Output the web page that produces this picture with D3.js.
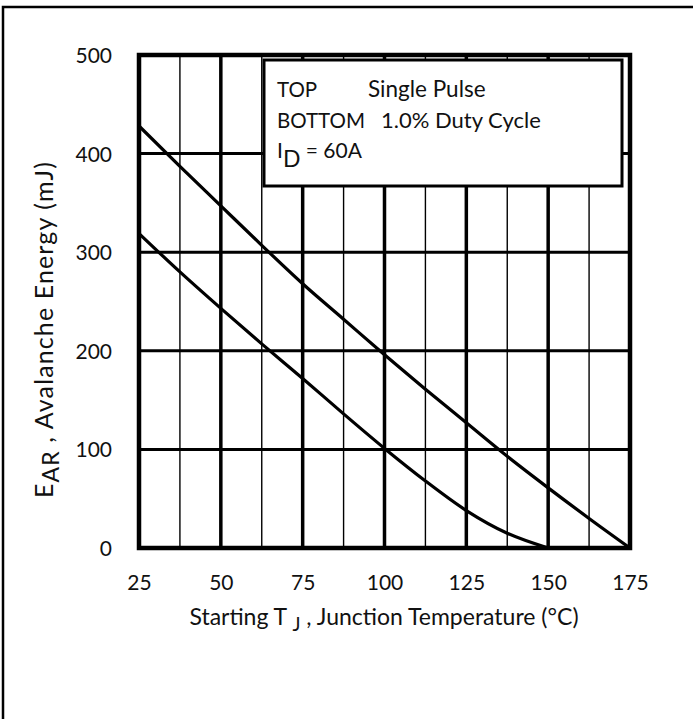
<!DOCTYPE html>
<html>
<head>
<meta charset="utf-8">
<script src="https://cdn.jsdelivr.net/npm/d3@7"></script>
<style>
  body { margin: 0; background: #fff; }
  svg text { font-family: Lato, "Noto Sans", sans-serif; fill: #111; }
</style>
</head>
<body>
<svg id="chart" width="693" height="719"></svg>
<script>
// Starting junction temperature (°C)
const xTicks = [25, 50, 75, 100, 125, 150, 175];
const xMinor = [37.5, 62.5, 87.5, 112.5, 137.5, 162.5];
const yTicks = [0, 100, 200, 300, 400, 500];

// Single pulse (top curve)
const singleTemp = [25, 37.5, 50, 62.5, 75, 87.5, 100, 112.5, 125, 137.5, 150, 162.5, 175];
const singleEnergy = [428, 387, 347, 307, 268, 232, 196, 161, 127, 93, 61, 30, 0];

// 1.0% duty cycle (bottom curve)
const dutyTemp = [25, 37.5, 50, 62.5, 75, 87.5, 100, 112.5, 125, 137.5, 150];
const dutyEnergy = [319, 280, 243, 207, 172, 136, 101, 68, 38, 15, 0];

const legendLines = ["TOP", "BOTTOM"];
const legendNames = ["Single Pulse", "1.0% Duty Cycle"];

function drawChart() {
    const svg = d3.select("#chart");

    // plot area
    const left = 139, right = 630, top = 55, bottom = 548;

    const xScale = d3.scaleLinear().domain([25, 175]).range([left, right]);
    const yScale = d3.scaleLinear().domain([0, 500]).range([bottom, top]);

    // outer frame
    svg.append("rect")
        .attr("x", 3).attr("y", 7)
        .attr("width", 720).attr("height", 730)
        .attr("fill", "none").attr("stroke", "#000").attr("stroke-width", 2.5);

    // minor vertical grid
    svg.append("g").selectAll("line")
        .data(xMinor).join("line")
        .attr("x1", d => xScale(d)).attr("x2", d => xScale(d))
        .attr("y1", top).attr("y2", bottom)
        .attr("stroke", "#000").attr("stroke-width", 1.4);

    // major vertical grid
    svg.append("g").selectAll("line")
        .data(xTicks.slice(1, -1)).join("line")
        .attr("x1", d => xScale(d)).attr("x2", d => xScale(d))
        .attr("y1", top).attr("y2", bottom)
        .attr("stroke", "#000").attr("stroke-width", 3.5);

    // horizontal grid
    svg.append("g").selectAll("line")
        .data(yTicks.slice(1, -1)).join("line")
        .attr("x1", left).attr("x2", right)
        .attr("y1", d => yScale(d)).attr("y2", d => yScale(d))
        .attr("stroke", "#000").attr("stroke-width", 3);

    // plot border
    svg.append("rect")
        .attr("x", left).attr("y", top)
        .attr("width", right - left).attr("height", bottom - top)
        .attr("fill", "none").attr("stroke", "#000").attr("stroke-width", 4.5);

    // curves
    const line = d3.line()
        .x(d => xScale(d[0]))
        .y(d => yScale(d[1]))
        .curve(d3.curveMonotoneX);

    svg.append("path")
        .datum(d3.zip(singleTemp, singleEnergy))
        .attr("d", line)
        .attr("fill", "none").attr("stroke", "#000").attr("stroke-width", 3.2);

    svg.append("path")
        .datum(d3.zip(dutyTemp, dutyEnergy))
        .attr("d", line)
        .attr("fill", "none").attr("stroke", "#000").attr("stroke-width", 3.2);

    // legend box
    const lg = svg.append("g");
    lg.append("rect")
        .attr("x", 264).attr("y", 60)
        .attr("width", 358).attr("height", 126)
        .attr("fill", "#fff").attr("stroke", "#000").attr("stroke-width", 3);

    legendLines.forEach((t, i) => {
        lg.append("text").attr("x", 277).attr("y", 97 + i * 30.5)
            .attr("font-size", 20.5).text(t);
    });
    lg.append("text").attr("x", 368).attr("y", 97).attr("font-size", 22.5).text(legendNames[0]);
    lg.append("text").attr("x", 381).attr("y", 127.5).attr("font-size", 22).text(legendNames[1]);
    const idText = lg.append("text").attr("x", 277).attr("y", 158).attr("font-size", 21);
    idText.append("tspan").text("I");
    idText.append("tspan").attr("dy", 9).attr("font-size", 23).text("D");
    idText.append("tspan").attr("dy", -9).text(" = 60A");

    // x axis labels
    const xAxis = svg.append("g")
        .attr("transform", `translate(0,${bottom})`)
        .call(d3.axisBottom(xScale).tickValues(xTicks).tickSize(0).tickPadding(0).tickFormat(d3.format("d")));
    xAxis.select(".domain").remove();
    xAxis.selectAll("text")
        .attr("y", 42).attr("dy", null)
        .attr("font-size", 21).attr("font-family", "Lato, 'Noto Sans', sans-serif").attr("fill", "#111");

    // y axis labels
    const yAxis = svg.append("g")
        .attr("transform", `translate(112,0)`)
        .call(d3.axisLeft(yScale).tickValues(yTicks).tickSize(0).tickPadding(0));
    yAxis.select(".domain").remove();
    yAxis.selectAll("text")
        .attr("x", 0).attr("dy", "0.36em")
        .attr("font-size", 21).attr("font-family", "Lato, 'Noto Sans', sans-serif").attr("fill", "#111");

    // x title
    const xt = svg.append("text")
        .attr("x", 384).attr("y", 625)
        .attr("text-anchor", "middle").attr("font-size", 23);
    xt.append("tspan").text("Starting T ");
    xt.append("tspan").attr("dy", 6).attr("font-size", 19).text("J");
    xt.append("tspan").attr("dy", -6).text(" , Junction Temperature (°C)");

    // y title
    const yt = svg.append("text")
        .attr("transform", "translate(53,330) rotate(-90)")
        .attr("text-anchor", "middle").attr("font-size", 25)
        .attr("textLength", 336).attr("lengthAdjust", "spacing");
    yt.append("tspan").text("E");
    yt.append("tspan").attr("dy", 6).attr("font-size", 23).text("AR");
    yt.append("tspan").attr("dy", -6).text(" , Avalanche Energy (mJ)");
}

document.addEventListener('DOMContentLoaded', () => {
    drawChart();
});
</script>
</body>
</html>
